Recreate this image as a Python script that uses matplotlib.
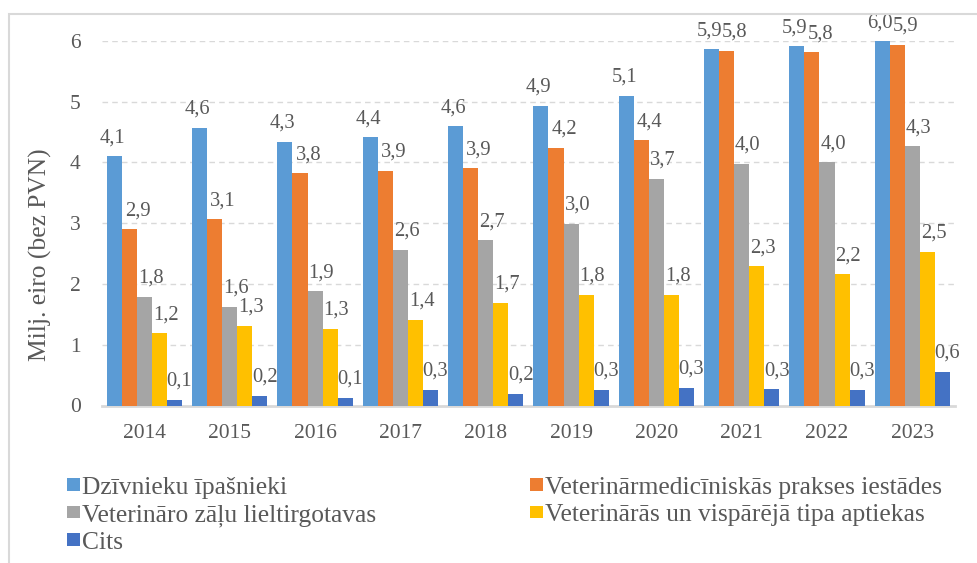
import matplotlib
matplotlib.use("Agg")
import matplotlib.pyplot as plt
from matplotlib.patches import Patch, Rectangle
import numpy as np

years = ["2014", "2015", "2016", "2017", "2018", "2019", "2020", "2021", "2022", "2023"]
series_names = ["Dzīvnieku īpašnieki",
                "Veterinārmedicīniskās prakses iestādes",
                "Veterināro zāļu lieltirgotavas",
                "Veterinārās un vispārējā tipa aptiekas",
                "Cits"]
owners = [4.10, 4.57, 4.34, 4.41, 4.59, 4.93, 5.09, 5.86, 5.91, 5.99]
practices = [2.90, 3.06, 3.82, 3.86, 3.90, 4.24, 4.36, 5.83, 5.81, 5.93]
wholesalers = [1.79, 1.62, 1.88, 2.56, 2.72, 2.99, 3.73, 3.98, 4.00, 4.26]
pharmacies = [1.19, 1.31, 1.26, 1.41, 1.69, 1.82, 1.82, 2.29, 2.16, 2.53]
other = [0.09, 0.16, 0.13, 0.26, 0.19, 0.26, 0.29, 0.27, 0.26, 0.55]
colors = ["#5B9BD5", "#ED7D31", "#A5A5A5", "#FFC000", "#4472C4"]

TEXT = "#595959"
GRID = "#D9D9D9"
plt.rcParams["font.family"] = ["Liberation Serif", "DejaVu Serif"]

fig = plt.figure(figsize=(9.77, 5.63), dpi=100)
ax = fig.add_axes([101.7 / 977, 1 - 405.5 / 563, 853.3 / 977, 364.8 / 563])

# frame round the whole chart (right and bottom edge fall outside the image)
fig.patches.append(Rectangle((8.5 / 977, -0.01), 1.0, 1 - 13.5 / 563 + 0.01,
                             transform=fig.transFigure, fill=False,
                             edgecolor=GRID, linewidth=1.5))

data = [owners, practices, wholesalers, pharmacies, other]
x = np.arange(len(years))
width = 0.176
label_dx = [-1.5, 6, 4.5, 4.5, 3.5]  # value labels sit a bit right of the bar, as in Excel
for i, vals in enumerate(data):
    pos = x + (i - 2) * width
    ax.bar(pos, vals, width=width, color=colors[i], label=series_names[i], zorder=3)
    for a, b in zip(pos, vals):
        ax.annotate(("%.1f" % b).replace(".", ","), (a, b), xytext=(label_dx[i], 6.5),
                    textcoords="offset points", ha="center", va="bottom",
                    fontsize=14.8, color=TEXT, annotation_clip=False)

ax.set_xlim(-0.5, len(years) - 0.5)
ax.set_ylim(0, 6)
ax.set_yticks(range(7))
ax.set_xticks(x)
ax.set_xticklabels(years)
ax.tick_params(axis="both", length=0, labelsize=15.5, labelcolor=TEXT)
ax.tick_params(axis="y", pad=15)
ax.tick_params(axis="x", pad=13)
ax.yaxis.grid(True, color=GRID, linestyle=(0, (4, 3)), linewidth=1, zorder=0)
ax.set_axisbelow(True)
for s in ["left", "right", "top"]:
    ax.spines[s].set_visible(False)
ax.spines["bottom"].set_color(GRID)
ax.spines["bottom"].set_linewidth(2)

fig.text(40 / 977, 1 - 255 / 563, "Milj. eiro (bez PVN)", rotation=90,
         ha="center", va="center", fontsize=18.4, color=TEXT)

# legend filled row by row like the original
handles = [Patch(facecolor=c) for c in colors]
order = [0, 2, 4, 1, 3]
leg = fig.legend([handles[k] for k in order], [series_names[k] for k in order],
                 loc="upper left", bbox_to_anchor=(67 / 977, 1 - 477 / 563),
                 ncol=2, frameon=False, fontsize=18.4, handlelength=0.5,
                 handleheight=0.4, handletextpad=0.1, labelspacing=0.2,
                 columnspacing=6.0, borderpad=0, borderaxespad=0)
for t in leg.get_texts():
    t.set_color(TEXT)

fig.savefig("out.png", dpi=100)
